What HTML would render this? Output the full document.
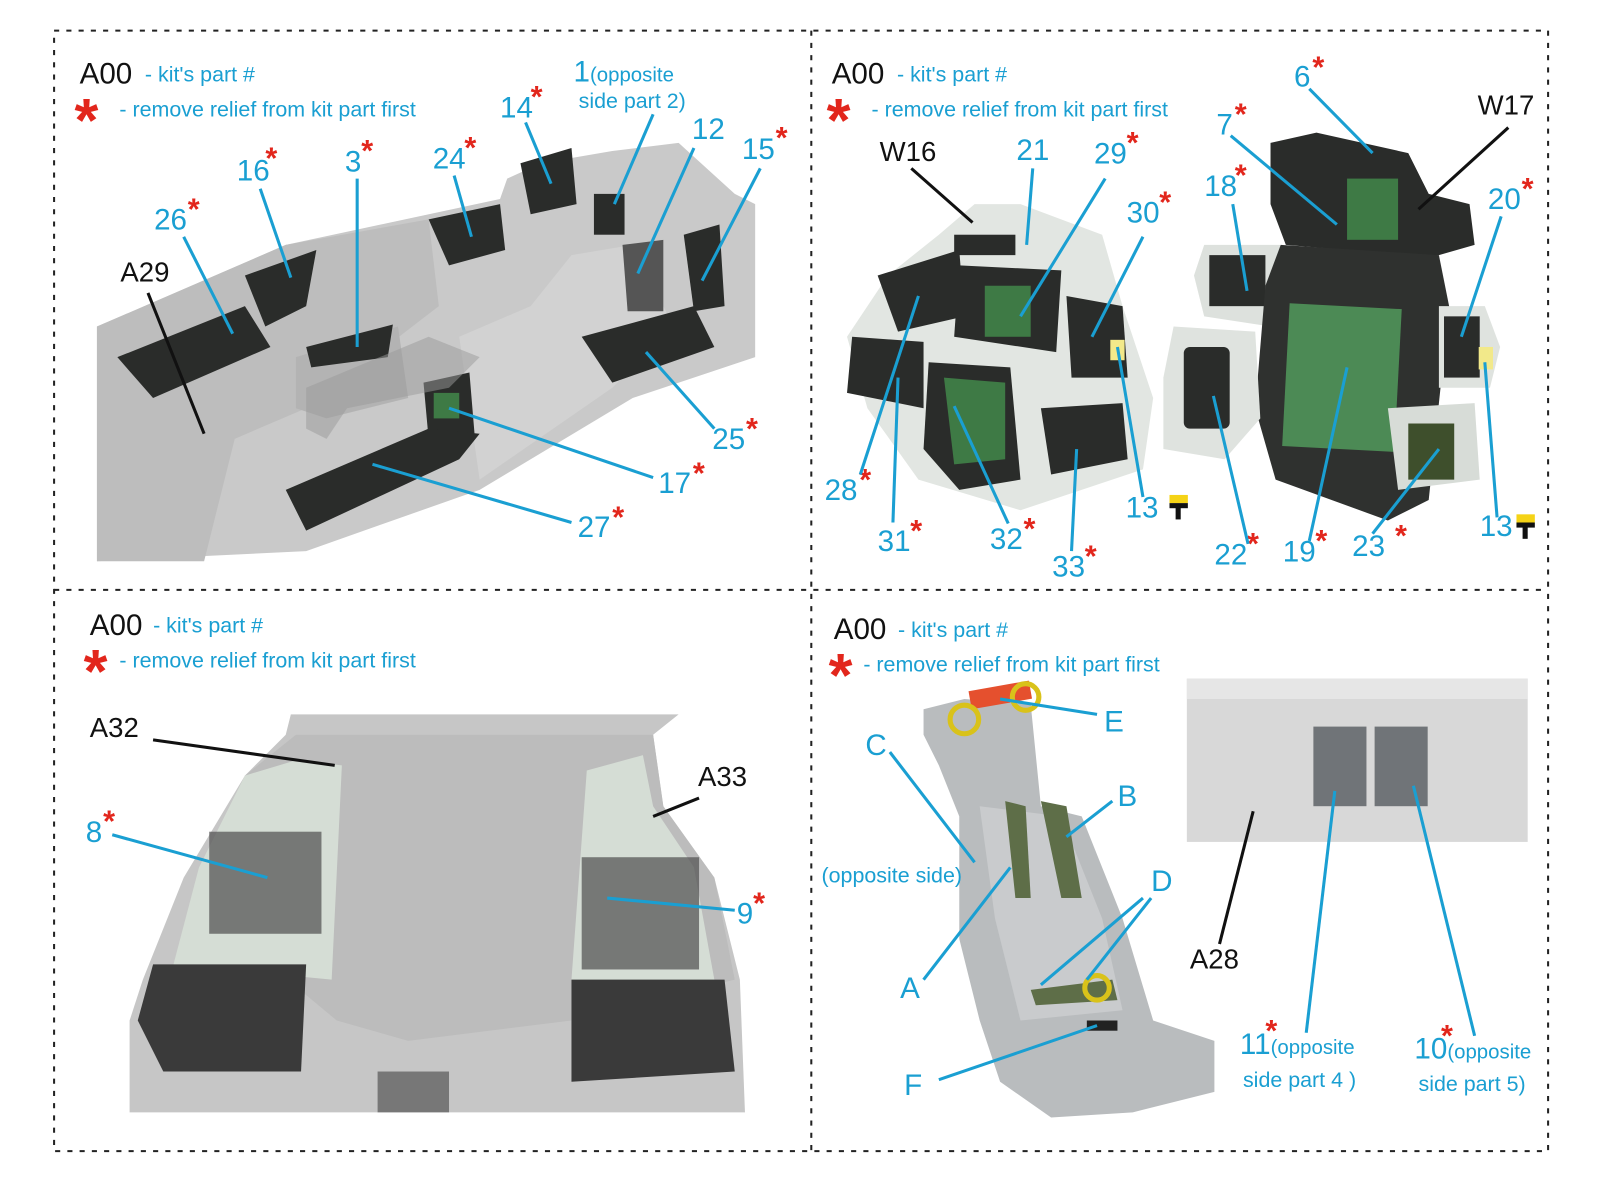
<!DOCTYPE html>
<html><head><meta charset="utf-8"><style>
html,body{margin:0;padding:0;background:#fff;}
svg{display:block;}
text{font-family:"Liberation Sans",sans-serif;}
.k{fill:#111;}
.n{font-size:29px;fill:#1a9fd2;}
.s{font-size:30px;fill:#e2261c;font-weight:bold;}
.ls{font-size:60px;fill:#e2261c;font-weight:bold;}
.t{font-size:21px;fill:#1a9fd2;}
.bl{stroke:#1a9fd2;stroke-width:3;fill:none;}
.kl{stroke:#111;stroke-width:3;fill:none;}
.dk{fill:#2a2c2a;}
.gr{fill:#3e7a45;}
</style></head><body>
<svg width="1600" height="1180" viewBox="0 0 1600 1180" xmlns="http://www.w3.org/2000/svg">
<rect x="0" y="0" width="1600" height="1180" fill="#fff"/>
<g transform="scale(1.0205)">
<g stroke="#222" stroke-width="2" stroke-dasharray="5,7" fill="none">
<rect x="53" y="30" width="1464" height="1098"/>
<line x1="795" y1="30" x2="795" y2="1128"/>
<line x1="53" y1="578" x2="1517" y2="578"/>
</g>

<!-- Panel 1 -->
<polygon points="95,320 280,240 490,195 497,175 530,160 600,148 665,140 720,190 740,200 740,350 620,390 470,480 300,540 95,550" fill="#c9c9c9"/>
<polygon points="95,320 280,240 420,215 430,300 300,400 230,430 200,550 95,550" fill="#bdbdbd"/>
<polygon points="290,350 390,320 400,390 320,410 290,400" fill="#b3b3b3"/>
<polygon points="450,330 520,300 560,250 620,240 660,320 600,380 470,470" fill="#d2d2d2"/>
<polygon points="115,350 240,300 265,340 150,390" class="dk"/>
<polygon points="240,270 310,245 300,300 260,320" class="dk"/>
<polygon points="300,340 385,318 380,350 305,360" class="dk"/>
<polygon points="420,215 490,200 495,245 440,260" class="dk"/>
<polygon points="510,160 560,145 565,200 520,210" class="dk"/>
<rect x="582" y="190" width="30" height="40" class="dk"/>
<polygon points="610,240 650,235 650,305 615,305" fill="#555"/>
<polygon points="670,230 705,220 710,300 680,305" class="dk"/>
<polygon points="570,330 680,300 700,340 600,375" class="dk"/>
<polygon points="415,375 460,365 465,425 420,430" class="dk"/>
<rect x="425" y="385" width="25" height="25" class="gr"/>
<polygon points="280,480 420,420 470,425 450,450 300,520" class="dk"/>
<polygon points="300,380 420,330 470,350 440,380 340,400 320,430 300,420" fill="#999" opacity=".5"/>

<text x="78" y="82" font-size="29" class="k">A00</text>
<text x="142" y="80" class="t">- kit's part #</text>
<text x="73" y="138" class="ls">*</text>
<text x="117" y="114" class="t">- remove relief from kit part first</text>
<text x="562" y="80" class="n" font-size="26">1<tspan font-size="20">(opposite</tspan></text>
<text x="567" y="106" class="t" font-size="20">side part 2)</text>
<text x="490" y="115" class="n">14</text><text x="520" y="105" class="s">*</text>
<text x="232" y="177" class="n">16</text><text x="260" y="165" class="s">*</text>
<text x="338" y="168" class="n">3</text><text x="354" y="158" class="s">*</text>
<text x="424" y="165" class="n">24</text><text x="455" y="155" class="s">*</text>
<text x="151" y="225" class="n">26</text><text x="184" y="215" class="s">*</text>
<text x="118" y="276" class="k" font-size="27">A29</text>
<text x="678" y="136" class="n">12</text>
<text x="727" y="156" class="n">15</text><text x="760" y="145" class="s">*</text>
<text x="698" y="440" class="n">25</text><text x="731" y="430" class="s">*</text>
<text x="645" y="483" class="n">17</text><text x="679" y="474" class="s">*</text>
<text x="566" y="526" class="n">27</text><text x="600" y="517" class="s">*</text>
<line x1="255" y1="185" x2="285" y2="272" class="bl"/>
<line x1="350" y1="175" x2="350" y2="340" class="bl"/>
<line x1="445" y1="172" x2="462" y2="232" class="bl"/>
<line x1="515" y1="120" x2="540" y2="180" class="bl"/>
<line x1="640" y1="112" x2="602" y2="200" class="bl"/>
<line x1="680" y1="145" x2="625" y2="268" class="bl"/>
<line x1="745" y1="165" x2="688" y2="275" class="bl"/>
<line x1="180" y1="232" x2="228" y2="327" class="bl"/>
<line x1="145" y1="287" x2="200" y2="425" class="kl"/>
<line x1="700" y1="420" x2="633" y2="345" class="bl"/>
<line x1="640" y1="468" x2="440" y2="400" class="bl"/>
<line x1="560" y1="512" x2="365" y2="455" class="bl"/>

<!-- Panel 2 -->
<polygon points="955,200 1000,200 1080,230 1100,300 1130,390 1120,460 1000,500 900,470 850,400 830,330 870,270 920,230" fill="#e2e6e2"/>
<rect x="935" y="230" width="60" height="20" class="dk"/>
<polygon points="860,270 940,245 945,310 880,325" class="dk"/>
<polygon points="940,260 1040,265 1035,345 935,330" class="dk"/>
<rect x="965" y="280" width="45" height="50" class="gr"/>
<polygon points="1045,290 1100,300 1105,370 1050,370" class="dk"/>
<polygon points="835,330 905,335 905,400 830,385" class="dk"/>
<polygon points="910,355 990,360 1000,470 940,480 905,440" class="dk"/>
<polygon points="925,370 985,375 985,450 935,455" class="gr"/>
<polygon points="1020,400 1100,395 1105,450 1030,465" class="dk"/>
<rect x="1088" y="333" width="14" height="20" fill="#f2e98a"/>
<polygon points="1245,140 1290,130 1380,150 1400,190 1440,200 1445,240 1410,250 1380,250 1260,240 1245,200" class="dk"/>
<rect x="1320" y="175" width="50" height="60" class="gr"/>
<polygon points="1180,240 1255,240 1260,300 1245,320 1180,310 1170,270" fill="#dde1dd"/>
<rect x="1185" y="250" width="55" height="50" class="dk"/>
<polygon points="1255,240 1410,250 1420,300 1400,490 1360,510 1250,470 1230,400 1240,280" fill="#2f312f"/>
<rect x="1260" y="300" width="110" height="140" fill="#4c8a55" transform="rotate(3 1315 370)"/>
<polygon points="1150,320 1230,325 1235,410 1200,450 1140,440 1140,370" fill="#dfe3df"/>
<rect x="1160" y="340" width="45" height="80" class="dk" rx="6"/>
<polygon points="1410,300 1455,300 1470,340 1460,380 1410,380" fill="#dfe3df"/>
<rect x="1415" y="310" width="35" height="60" class="dk"/>
<rect x="1449" y="340" width="14" height="22" fill="#f2e98a"/>
<polygon points="1360,400 1445,395 1450,470 1370,480" fill="#d7dcd7"/>
<rect x="1380" y="415" width="45" height="55" fill="#3e4f2c"/>

<text x="815" y="82" font-size="29" class="k">A00</text>
<text x="879" y="80" class="t">- kit's part #</text>
<text x="810" y="138" class="ls">*</text>
<text x="854" y="114" class="t">- remove relief from kit part first</text>
<text x="862" y="158" class="k" font-size="27">W16</text>
<text x="996" y="157" class="n">21</text>
<text x="1072" y="160" class="n">29</text><text x="1104" y="150" class="s">*</text>
<text x="1104" y="218" class="n">30</text><text x="1136" y="208" class="s">*</text>
<text x="1180" y="192" class="n">18</text><text x="1210" y="182" class="s">*</text>
<text x="1192" y="132" class="n">7</text><text x="1210" y="122" class="s">*</text>
<text x="1268" y="85" class="n">6</text><text x="1286" y="76" class="s">*</text>
<text x="1448" y="112" class="k" font-size="27">W17</text>
<text x="1458" y="205" class="n">20</text><text x="1491" y="195" class="s">*</text>
<text x="808" y="490" class="n">28</text><text x="842" y="480" class="s">*</text>
<text x="860" y="540" class="n">31</text><text x="892" y="530" class="s">*</text>
<text x="970" y="538" class="n">32</text><text x="1003" y="528" class="s">*</text>
<text x="1031" y="565" class="n">33</text><text x="1063" y="555" class="s">*</text>
<text x="1103" y="507" class="n">13</text>
<rect x="1146" y="485" width="18" height="8" fill="#f5d316"/><rect x="1146" y="493" width="18" height="5" fill="#111"/><rect x="1152" y="497" width="5" height="12" fill="#111"/>
<text x="1190" y="553" class="n">22</text><text x="1222" y="543" class="s">*</text>
<text x="1257" y="550" class="n">19</text><text x="1289" y="540" class="s">*</text>
<text x="1325" y="545" class="n">23</text><text x="1367" y="535" class="s">*</text>
<text x="1450" y="525" class="n">13</text>
<rect x="1486" y="504" width="18" height="8" fill="#f5d316"/><rect x="1486" y="512" width="18" height="5" fill="#111"/><rect x="1492" y="516" width="5" height="12" fill="#111"/>
<line x1="893" y1="165" x2="953" y2="218" class="kl"/>
<line x1="1012" y1="165" x2="1006" y2="240" class="bl"/>
<line x1="1083" y1="175" x2="1000" y2="310" class="bl"/>
<line x1="1120" y1="232" x2="1070" y2="330" class="bl"/>
<line x1="843" y1="465" x2="900" y2="290" class="bl"/>
<line x1="875" y1="512" x2="880" y2="370" class="bl"/>
<line x1="988" y1="513" x2="935" y2="398" class="bl"/>
<line x1="1050" y1="540" x2="1055" y2="440" class="bl"/>
<line x1="1120" y1="487" x2="1095" y2="340" class="bl"/>
<line x1="1208" y1="200" x2="1222" y2="285" class="bl"/>
<line x1="1206" y1="133" x2="1310" y2="220" class="bl"/>
<line x1="1283" y1="87" x2="1345" y2="150" class="bl"/>
<line x1="1478" y1="125" x2="1390" y2="205" class="kl"/>
<line x1="1471" y1="212" x2="1432" y2="330" class="bl"/>
<line x1="1223" y1="533" x2="1189" y2="388" class="bl"/>
<line x1="1283" y1="530" x2="1320" y2="360" class="bl"/>
<line x1="1345" y1="523" x2="1410" y2="440" class="bl"/>
<line x1="1467" y1="507" x2="1455" y2="355" class="bl"/>

<!-- Panel 3 -->
<polygon points="127,1090 730,1090 725,960 700,860 650,790 640,720 665,700 285,700 280,720 240,760 180,860 140,960 127,1000" fill="#c6c6c6"/>
<polygon points="290,720 640,720 650,790 700,860 720,960 560,1000 400,1020 330,1000 270,950 200,900 240,760" fill="#bcbcbc"/>
<polygon points="240,760 290,745 335,750 325,960 170,945 195,850" fill="#d5ddd5"/>
<polygon points="575,755 630,740 640,790 680,850 700,960 560,960" fill="#d5ddd5"/>
<rect x="205" y="815" width="110" height="100" fill="#555" opacity=".75"/>
<rect x="570" y="840" width="115" height="110" fill="#555" opacity=".75"/>
<polygon points="150,945 300,945 295,1050 160,1050 135,1000" fill="#3a3a3a"/>
<polygon points="560,960 710,960 720,1050 560,1060" fill="#3a3a3a"/>
<rect x="370" y="1050" width="70" height="40" fill="#777"/>

<text x="88" y="622" font-size="29" class="k">A00</text>
<text x="150" y="620" class="t">- kit's part #</text>
<text x="82" y="678" class="ls">*</text>
<text x="117" y="654" class="t">- remove relief from kit part first</text>
<text x="88" y="722" class="k" font-size="27">A32</text>
<text x="684" y="770" class="k" font-size="27">A33</text>
<text x="84" y="825" class="n">8</text><text x="101" y="815" class="s">*</text>
<text x="722" y="905" class="n">9</text><text x="738" y="895" class="s">*</text>
<line x1="150" y1="725" x2="328" y2="750" class="kl"/>
<line x1="685" y1="782" x2="640" y2="800" class="kl"/>
<line x1="110" y1="818" x2="262" y2="860" class="bl"/>
<line x1="720" y1="892" x2="595" y2="880" class="bl"/>

<!-- Panel 4 -->
<polygon points="905,695 945,685 1010,690 1020,790 1060,800 1100,900 1130,1000 1190,1020 1190,1070 1110,1090 1030,1095 980,1060 960,1000 940,920 940,800 920,750 905,720" fill="#b9bcbe"/>
<polygon points="960,790 1040,800 1080,900 1100,990 1000,1000 975,900" fill="#c9cbcd"/>
<polygon points="985,785 1005,790 1010,880 995,880" fill="#5e6e48"/>
<polygon points="1020,785 1045,790 1060,880 1040,880" fill="#5e6e48"/>
<polygon points="1010,970 1090,960 1095,980 1015,985" fill="#5e6e48"/>
<rect x="950" y="672" width="60" height="18" fill="#e5502e" transform="rotate(-10 980 680)"/>
<circle cx="945" cy="705" r="14" fill="none" stroke="#d9c21a" stroke-width="5"/>
<circle cx="1005" cy="683" r="13" fill="none" stroke="#d9c21a" stroke-width="5"/>
<circle cx="1075" cy="968" r="12" fill="none" stroke="#d9c21a" stroke-width="5"/>
<rect x="1065" y="1000" width="30" height="10" fill="#222"/>
<rect x="1163" y="665" width="334" height="160" fill="#d8d8d8"/>
<rect x="1163" y="665" width="334" height="20" fill="#e6e6e6"/>
<rect x="1287" y="712" width="52" height="78" fill="#707478"/>
<rect x="1347" y="712" width="52" height="78" fill="#707478"/>

<text x="817" y="626" font-size="29" class="k">A00</text>
<text x="880" y="624" class="t">- kit's part #</text>
<text x="812" y="682" class="ls">*</text>
<text x="846" y="658" class="t">- remove relief from kit part first</text>
<text x="1082" y="717" class="n">E</text>
<text x="848" y="740" class="n">C</text>
<text x="1095" y="790" class="n">B</text>
<text x="805" y="865" class="t" font-size="20">(opposite side)</text>
<text x="1128" y="873" class="n">D</text>
<text x="882" y="978" class="n">A</text>
<text x="886" y="1073" class="n">F</text>
<text x="1166" y="949" class="k" font-size="27">A28</text>
<text x="1215" y="1033" class="n">11<tspan font-size="20">(opposite</tspan></text><text x="1240" y="1020" class="s">*</text>
<text x="1218" y="1065" class="t" font-size="20">side part 4 )</text>
<text x="1386" y="1037" class="n">10<tspan font-size="20">(opposite</tspan></text><text x="1412" y="1025" class="s">*</text>
<text x="1390" y="1069" class="t" font-size="20">side part 5)</text>
<line x1="1075" y1="700" x2="980" y2="685" class="bl"/>
<line x1="872" y1="737" x2="955" y2="845" class="bl"/>
<line x1="1090" y1="785" x2="1045" y2="820" class="bl"/>
<line x1="1128" y1="880" x2="1065" y2="960" class="bl"/>
<line x1="1120" y1="880" x2="1020" y2="965" class="bl"/>
<line x1="905" y1="960" x2="990" y2="850" class="bl"/>
<line x1="920" y1="1058" x2="1075" y2="1005" class="bl"/>
<line x1="1195" y1="925" x2="1228" y2="795" class="kl"/>
<line x1="1280" y1="1012" x2="1308" y2="775" class="bl"/>
<line x1="1445" y1="1015" x2="1385" y2="770" class="bl"/>
</g>
</svg>
</body></html>
